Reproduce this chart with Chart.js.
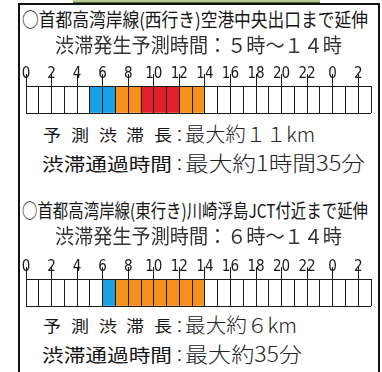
<!DOCTYPE html>
<html><head><meta charset="utf-8">
<script src="https://cdn.jsdelivr.net/npm/chart.js@4/dist/chart.umd.min.js"></script>
<style>
html,body{margin:0;padding:0;background:#fff;width:382px;height:372px;overflow:hidden;}
#wrap{position:relative;width:382px;height:372px;background:#fff;}
.frame{position:absolute;left:18px;top:3px;width:362px;height:400px;border:2px solid #111;border-bottom:none;box-sizing:border-box;}
.green{position:absolute;left:73px;top:0;width:247px;height:2px;background:#b9cc95;border-bottom:1px solid #4e6a2e;}
.t{position:absolute;white-space:nowrap;font-family:"Noto Sans CJK JP","Noto Sans CJK SC",sans-serif;font-weight:300;line-height:1;color:#222;transform-origin:0 50%;}
.cv{position:absolute;left:0;width:382px;height:60px;}
</style></head>
<body><div id="wrap">
<div class="green"></div>
<div class="frame"></div>
<div class="cv" style="top:55px"><canvas id="c1" width="382" height="60"></canvas></div>
<div class="cv" style="top:248px"><canvas id="c2" width="382" height="60"></canvas></div>
</div>
<script>
// ---- data ----
const hours = [0,1,2,3,4,5,6,7,8,9,10,11,12,13,14,15,16,17,18,19,20,21,22,23,24,25,26];
const tickLabels = ['0','2','4','6','8','10','12','14','16','18','20','22','0','2'];
// congestion level per hour: 0 none, 1 blue, 2 orange, 3 red
const westLevels = [0,0,0,0,0,1,1,2,2,3,3,3,2,2,0,0,0,0,0,0,0,0,0,0,0,0,0];
const eastLevels = [0,0,0,0,0,0,1,2,2,2,2,2,2,2,0,0,0,0,0,0,0,0,0,0,0,0,0];
const levelColors = ['#ffffff','#1aa0e4','#f5921e','#e3202a'];

const title1 = '○首都高湾岸線(西行き)空港中央出口まで延伸';
const sub1 = '渋滞発生予測時間：５時～１４時';
const len1 = '最大約１１km';
const time1 = '最大約1時間35分';
const title2 = '○首都高湾岸線(東行き)川崎浮島JCT付近まで延伸';
const sub2 = '渋滞発生予測時間：６時～１４時';
const len2 = '最大約６km';
const time2 = '最大約35分';
const lenLabel = '予測渋滞長';
const timeLabel = '渋滞通過時間';

// ---- text layout ----
const wrap = document.getElementById('wrap');
function txt(s, x1, x2, cy, size, opts){
  const el = document.createElement('div');
  el.className = 't';
  el.textContent = s;
  el.style.fontSize = size + 'px';
  el.style.left = x1 + 'px';
  el.style.top = (cy - size*0.55) + 'px';
  if (opts && opts.color) el.style.color = opts.color;
  if (opts && opts.weight) el.style.fontWeight = opts.weight;
  wrap.appendChild(el);
  const w = el.getBoundingClientRect().width;
  el.style.transform = 'scaleX(' + ((x2 - x1) / w) + ')';
  return el;
}
function spread(s, x1, x2, cy, size, cw, opts){
  const chars = Array.from(s);
  const n = chars.length;
  chars.forEach((c,i)=>{
    const x = x1 + i * ((x2 - x1 - cw) / (n - 1));
    txt(c, x, x + cw, cy, size, opts);
  });
}
function section(dy, title, sub, len, time, lenX2, timeX2){
  const bold = {weight: 400, color: '#151515'};
  txt(title, 22, 368, 19 + dy, 19, bold);
  txt(sub, 55, 342, 45.5 + dy, 20, {weight: 400, color: '#333'});
  spread(lenLabel, 43, 172, 135 + dy, 16, 18, bold);
  txt('：', 171, 188, 135 + dy, 17);
  txt(len, 185, lenX2, 135 + dy, 20);
  txt(timeLabel, 42, 172, 164 + dy, 18, bold);
  txt('：', 171, 188, 164 + dy, 17);
  txt(time, 185, timeX2, 164 + dy, 21);
}
section(0, title1, sub1, len1, time1, 315, 365);
section(191, title2, sub2, len2, time2, 297, 302);

// ---- charts ----
function makeChart(id, levels){
  new Chart(document.getElementById(id), {
    type: 'bar',
    data: { datasets: [{
      data: hours.map(h => ({x: h + 0.5, y: 1})),
      backgroundColor: levels.map(l => levelColors[l]),
      borderWidth: 0, barPercentage: 1, categoryPercentage: 1
    }]},
    options: {
      responsive: false, animation: false, events: [],
      layout: {padding: {left: 26, right: 11, top: 0, bottom: 2}},
      plugins: {legend: {display: false}, tooltip: {enabled: false}},
      scales: {
        x: {
          type: 'linear', position: 'top', min: 0, max: 27, offset: false,
          afterBuildTicks: s => { s.ticks = hours.concat([27]).map(v => ({value: v})); },
          afterFit: s => { s.height = 31; },
          ticks: {
            autoSkip: false, maxRotation: 0, minRotation: 0, padding: -9, color: '#1a1a1a',
            font: {family: '"Liberation Sans Narrow","DejaVu Sans Condensed","Arial Narrow",sans-serif', size: 15},
            callback: v => (v % 2 === 0 ? tickLabels[v / 2] : '')
          },
          grid: {
            offset: false, z: 1, color: '#1a1a1a', lineWidth: 1,
            tickLength: 12, tickWidth: 1,
            tickColor: c => (c.tick && c.tick.value % 2 === 0 ? '#1a1a1a' : 'rgba(0,0,0,0)')
          },
          border: {display: false}
        },
        y: {
          min: 0, max: 1,
          afterBuildTicks: s => { s.ticks = [{value: 0}, {value: 1}]; },
          afterFit: s => { s.width = 0; },
          ticks: {display: false},
          grid: {color: '#1a1a1a', lineWidth: 1, drawTicks: false, z: 1},
          border: {display: false}
        }
      }
    }
  });
}
makeChart('c1', westLevels);
makeChart('c2', eastLevels);
</script>
</body></html>
